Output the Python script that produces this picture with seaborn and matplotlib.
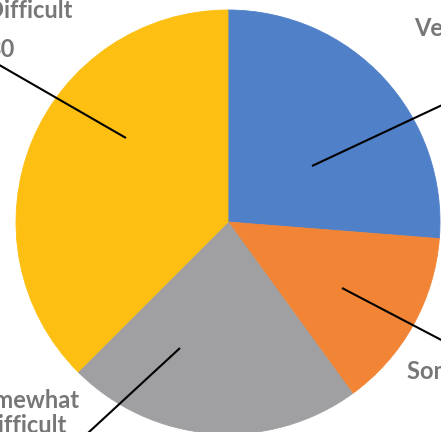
import matplotlib
matplotlib.use("Agg")
import matplotlib.pyplot as plt
import seaborn as sns

# data, clockwise from 12 o'clock
categories = ["Very Easy", "Somewhat Easy", "Somewhat\nDifficult", "Very Difficult"]
counts = [21, 11, 18, 30]
colors = ["#5080c8", "#f28535", "#a0a0a2", "#fdbf12"]

W, H = 441, 432

sns.set_theme(style="white")
plt.rcParams["font.family"] = ["Lato", "DejaVu Sans"]

fig = plt.figure(figsize=(W / 100, H / 100), dpi=100)
ax = fig.add_axes([0, 0, 1, 1])

wedges, _ = ax.pie(
    counts,
    colors=colors,
    startangle=90,
    counterclock=False,
    center=(228, H - 222),
    radius=212,
    wedgeprops=dict(linewidth=0.6),
)
for w in wedges:
    w.set_edgecolor(w.get_facecolor())
ax.set_xlim(0, W)
ax.set_ylim(0, H)
ax.set_aspect("equal")
ax.axis("off")

# label layout in pixels (x, y from top): leader anchor, leader end, label center / first baseline
layout = {
    "Very Easy": dict(a=(312, 166), e=(470, 92), c=(466, 36)),
    "Somewhat Easy": dict(a=(342, 288), e=(470, 355), c=(490, 379)),
    "Somewhat\nDifficult": dict(a=(180, 348), e=(75, 445), c=(23, 408)),
    "Very Difficult": dict(a=(126, 138), e=(-25, 51), c=(1, 18)),
}
txt = dict(fontsize=17, fontweight="bold", color="#777777", ha="center",
           va="baseline", clip_on=False)
LINE = 25

for cat, n in zip(categories, counts):
    lo = layout[cat]
    (ax_, ay), (ex, ey), (cx, cy) = lo["a"], lo["e"], lo["c"]
    ax.plot([ax_, ex], [H - ay, H - ey], color="black", lw=1.5,
            solid_capstyle="butt")
    lines = cat.split("\n")
    for i, s in enumerate(lines):
        ax.text(cx, H - cy - i * LINE, s, **txt)
    ax.text(cx, H - cy - (len(lines) - 1) * LINE - 39, str(n), **txt)

fig.savefig("out.png", dpi=100)
